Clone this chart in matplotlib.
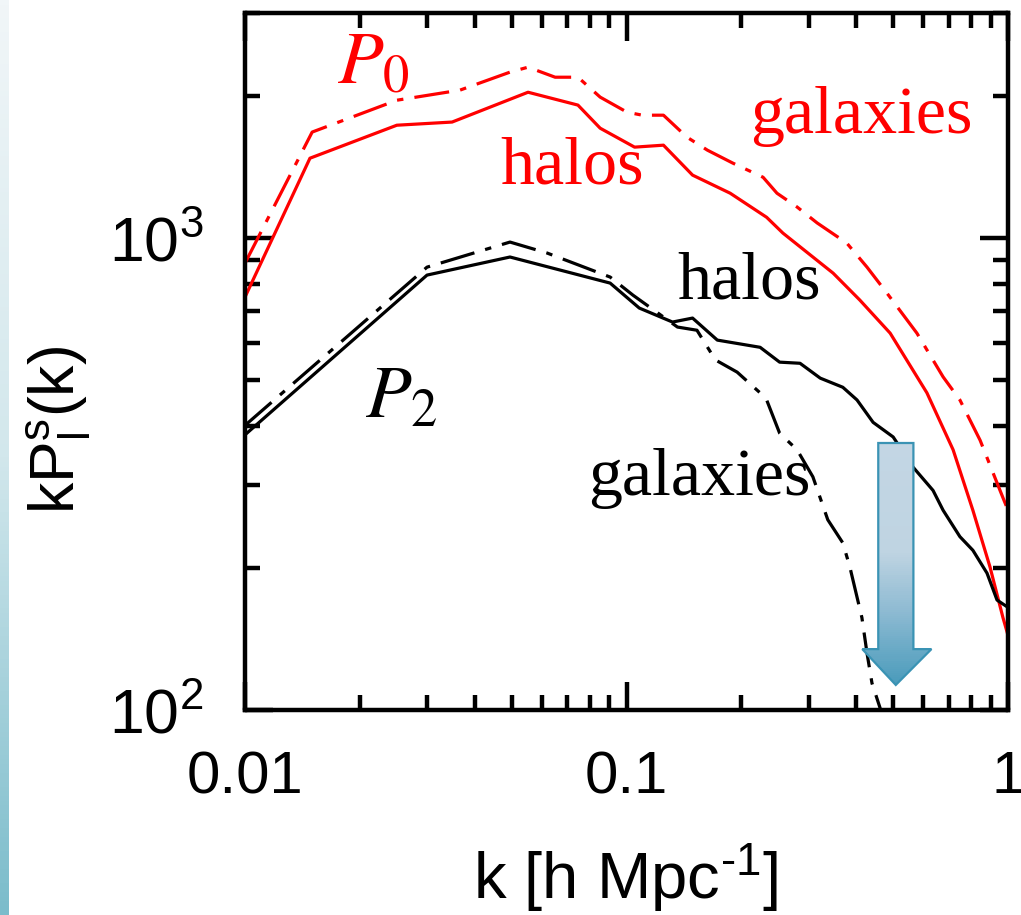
import numpy as np
import matplotlib
matplotlib.use('Agg')
import matplotlib.pyplot as plt
from matplotlib.patches import Polygon
from matplotlib.colors import LinearSegmentedColormap
from matplotlib.ticker import LogLocator, NullFormatter

plt.rcParams['font.family'] = 'Liberation Sans'
plt.rcParams['mathtext.fontset'] = 'custom'
plt.rcParams['mathtext.rm'] = 'Liberation Sans'
plt.rcParams['mathtext.it'] = 'Liberation Sans:italic'

# monopole, halos (red solid)
k_p0_halo = [0.01, 0.0148, 0.025, 0.0349, 0.0552, 0.0746, 0.0853, 0.105, 0.125,
             0.149, 0.187, 0.233, 0.257, 0.308, 0.348, 0.409, 0.491, 0.613,
             0.718, 0.809, 0.897, 0.970, 1.0]
p0_halo = [750, 1477, 1735, 1762, 2038, 1914, 1710, 1559, 1574,
           1360, 1245, 1107, 1025, 912, 843, 739, 629, 470,
           356, 265, 201, 157, 144]

# monopole, galaxies (red dash-dot)
k_p0_gal = [0.01, 0.015, 0.025, 0.0366, 0.0495, 0.0552, 0.065, 0.0746, 0.0853,
            0.1003, 0.110, 0.125, 0.144, 0.163, 0.190, 0.228, 0.248, 0.280,
            0.316, 0.378, 0.427, 0.482, 0.577, 0.676, 0.748, 0.845, 0.953, 1.0]
p0_gal = [885, 1678, 1960, 2059, 2248, 2303, 2193, 2193, 1990,
          1849, 1822, 1822, 1637, 1536, 1442, 1346, 1245, 1164,
          1077, 976, 868, 764, 629, 508, 454, 373, 292, 265]

# quadrupole, halos (black solid)
k_p2_halo = [0.01, 0.030, 0.0495, 0.0906, 0.108, 0.132, 0.149, 0.173, 0.224,
             0.252, 0.285, 0.322, 0.369, 0.402, 0.443, 0.500, 0.564, 0.636,
             0.676, 0.748, 0.809, 0.881, 0.936, 1.0]
p2_halo = [383, 835, 912, 803, 711, 664, 677, 608, 587,
           546, 543, 505, 483, 454, 407, 379, 327, 292,
           265, 233, 218, 195, 171, 165]

# quadrupole, galaxies (black dash-dot)
k_p2_gal = [0.01, 0.030, 0.0495, 0.0619, 0.0906, 0.104, 0.136, 0.153, 0.171,
            0.195, 0.224, 0.233, 0.252, 0.280, 0.308, 0.337, 0.369, 0.385,
            0.414, 0.427, 0.440, 0.462, 0.48]
p2_gal = [401, 868, 981, 930, 827, 757, 648, 638, 552,
          520, 470, 454, 386, 356, 312, 253, 226, 201,
          157, 132, 114, 101, 90]

x_ticks = [0.01, 0.1, 1]
x_ticklabels = ['0.01', '0.1', '1']
y_ticks = [100, 1000]
y_ticklabels = [r'$10^2$', r'$10^3$']

fig = plt.figure(figsize=(10.21, 9.15), dpi=100)

# light blue slide strip on the far left
strip = fig.add_axes([0, 0, 8 / 1021, 1])
strip_cmap = LinearSegmentedColormap.from_list('strip', ['#f1f6f8', '#d2e7ec', '#7bbccb'])
strip.imshow(np.linspace(0, 1, 200).reshape(-1, 1), aspect='auto', cmap=strip_cmap)
strip.axis('off')

ax = fig.add_axes([245 / 1021, 205 / 915, 763 / 1021, 697 / 915])

dashdot = (0, (11, 3.5, 2, 3.5))
ax.plot(k_p0_halo, p0_halo, color='#ff0000', lw=2.3)
ax.plot(k_p0_gal, p0_gal, color='#ff0000', lw=2.3, ls=dashdot)
ax.plot(k_p2_halo, p2_halo, color='black', lw=2.3)
ax.plot(k_p2_gal, p2_gal, color='black', lw=2.3, ls=dashdot)

ax.set_xscale('log')
ax.set_yscale('log')
ax.set_xlim(0.01, 1)
ax.set_ylim(100, 3000)

ax.set_xticks(x_ticks, x_ticklabels)
ax.set_yticks(y_ticks, y_ticklabels)
ax.xaxis.set_minor_locator(LogLocator(base=10, subs=np.arange(2, 10)))
ax.yaxis.set_minor_locator(LogLocator(base=10, subs=np.arange(2, 10)))
ax.xaxis.set_minor_formatter(NullFormatter())
ax.yaxis.set_minor_formatter(NullFormatter())

ax.tick_params(which='both', direction='in', top=True, right=True, width=3.2)
ax.tick_params(which='major', length=20)
ax.tick_params(which='minor', length=11)
ax.tick_params(axis='x', which='major', pad=29, labelsize=43)
ax.tick_params(axis='y', which='major', pad=30, labelsize=45)
for s in ax.spines.values():
    s.set_linewidth(3.2)

ax.set_xlabel('k [h Mpc$^{\\mathrm{\u2010}1}$]', fontsize=47, va='baseline')
ax.xaxis.set_label_coords(0.4993, -0.2712)
ax.set_ylabel(r'kP$_\mathrm{l}^\mathrm{s}$(k)', fontsize=45, va='center', ha='center')
ax.yaxis.set_label_coords(-0.2438, 0.4017)

# curve labels
serif = 'Liberation Serif'
ax.text(0.0174, 2128, r'$P_0$', color='#ff0000', fontsize=54, math_fontfamily='stix',
        ha='left', va='baseline')
ax.text(0.02065, 418, r'$P_2$', color='black', fontsize=54, math_fontfamily='stix',
        ha='left', va='baseline')
ax.text(0.04657, 1308, 'halos', color='#ff0000', fontsize=49, family=serif,
        ha='left', va='baseline')
ax.text(0.2107, 1669, 'galaxies', color='#ff0000', fontsize=49, family=serif,
        ha='left', va='baseline')
ax.text(0.1356, 746, 'halos', color='black', fontsize=49, family=serif,
        ha='left', va='baseline')
ax.text(0.0793, 285, 'galaxies', color='black', fontsize=49, family=serif,
        ha='left', va='baseline')

# gradient down arrow
arrow_k = [0.457, 0.565, 0.565, 0.630, 0.508, 0.415, 0.457]
arrow_p = [368, 368, 134.6, 134.6, 113, 134.6, 134.6]
arrow = Polygon(np.column_stack([arrow_k, arrow_p]), closed=True,
                facecolor='none', edgecolor='#3a93b4', lw=1.6, zorder=6)
ax.add_patch(arrow)
arrow_cmap = LinearSegmentedColormap.from_list(
    'arrow', [(0, '#c3d6e4'), (0.45, '#bfd4e2'), (0.7, '#8dbad2'), (1, '#4a9bbb')])
py = np.geomspace(368, 113, 120)
shade = np.linspace(0, 1, len(py) - 1).reshape(-1, 1)
mesh = ax.pcolormesh([0.415, 0.630], py, shade, cmap=arrow_cmap, shading='flat', zorder=5)
mesh.set_clip_path(arrow)

fig.savefig('out.png', dpi=100)
